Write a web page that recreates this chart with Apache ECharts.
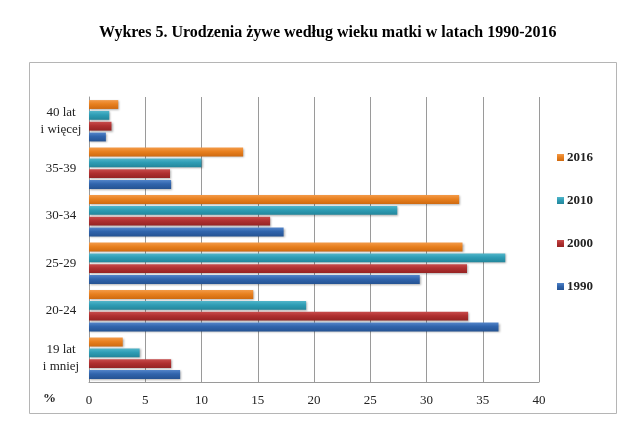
<!DOCTYPE html>
<html>
<head>
<meta charset="utf-8">
<script src="https://cdn.jsdelivr.net/npm/echarts@6/dist/echarts.min.js"></script>
<style>
html, body { margin: 0; padding: 0; background: #fff; }
#panel { width: 640px; height: 434px; }
</style>
</head>
<body>
<div id="panel"></div>
<script>
var ageGroups = ['19 lat\ni mniej', '20-24', '25-29', '30-34', '35-39', '40 lat\ni więcej'];
var years = ['2016', '2010', '2000', '1990'];
var values2016 = [3.0, 14.6, 33.2, 32.9, 13.7, 2.6];
var values2010 = [4.5, 19.3, 37.0, 27.4, 10.0, 1.8];
var values2000 = [7.3, 33.7, 33.6, 16.1, 7.2, 2.0];
var values1990 = [8.1, 36.4, 29.4, 17.3, 7.3, 1.5];
var xTicks = [0, 5, 10, 15, 20, 25, 30, 35, 40];

var serif = '"Liberation Serif", "Times New Roman", serif';

// kolory: [góra, środek, dół] żeby słupki miały lekki cień jak w Excelu
var colors = {
    '2016': ['#f39a48', '#e8801f', '#cf6a10'],
    '2010': ['#52b6ca', '#2f9db5', '#23869b'],
    '2000': ['#c84c4c', '#b03030', '#952323'],
    '1990': ['#5284c9', '#3064ac', '#255393']
};

function grad(c)
{
    return new echarts.graphic.LinearGradient(0, 0, 0, 1, [
        { offset: 0, color: c[0] },
        { offset: 0.45, color: c[1] },
        { offset: 1, color: c[2] }
    ]);
}

function makeSeries(name, data)
{
    return {
        name: name,
        type: 'bar',
        data: data,
        barGap: '22%',
        barCategoryGap: '13%',
        itemStyle: {
            color: grad(colors[name]),
            shadowColor: 'rgba(0,0,0,0.3)',
            shadowBlur: 2,
            shadowOffsetX: 1,
            shadowOffsetY: 1
        },
        emphasis: { disabled: true }
    };
}

var myChart = echarts.init(document.getElementById('panel'));
myChart.setOption({
    backgroundColor: '#fff',
    animation: false,
    title: {
        text: 'Wykres 5. Urodzenia żywe według wieku matki w latach 1990-2016',
        left: 94,
        top: 20,
        textStyle: {
            fontFamily: serif,
            fontWeight: 'bold',
            fontSize: 16,
            color: '#000'
        }
    },
    legend: {
        orient: 'vertical',
        left: 552,
        top: 146,
        itemWidth: 7,
        itemHeight: 7,
        itemGap: 30,
        icon: 'rect',
        data: years,
        textStyle: {
            fontFamily: serif,
            fontWeight: 'bold',
            fontSize: 13,
            color: '#222',
            padding: [0, 0, 0, -2]
        }
    },
    grid: {
        left: 89,
        right: 101,
        top: 97,
        bottom: 52,
        containLabel: false
    },
    xAxis: {
        type: 'value',
        min: 0,
        max: 40,
        interval: 5,
        axisLine: { show: true, lineStyle: { color: '#9a9a9a' } },
        axisTick: { show: false },
        splitLine: { show: true, lineStyle: { color: '#9a9a9a', width: 1 } },
        axisLabel: {
            margin: 12,
            fontFamily: serif,
            fontSize: 13,
            color: '#222',
            formatter: function (v) { return xTicks.indexOf(v) >= 0 ? String(v) : ''; }
        }
    },
    yAxis: {
        type: 'category',
        data: ageGroups,
        axisLine: { show: true, lineStyle: { color: '#9a9a9a' } },
        axisTick: { show: false },
        axisLabel: {
            margin: 28,
            align: 'center',
            fontFamily: serif,
            fontSize: 13,
            lineHeight: 17,
            color: '#222'
        }
    },
    graphic: [
        {
            type: 'rect',
            shape: { x: 29.5, y: 62.5, width: 587, height: 351 },
            style: { fill: 'none', stroke: '#b5b5b5', lineWidth: 1 },
            z: -1
        },
        {
            type: 'text',
            left: 43,
            top: 392,
            style: {
                text: '%',
                font: 'bold 13px ' + serif,
                fill: '#222'
            }
        }
    ],
    series: [
        makeSeries('2016', values2016),
        makeSeries('2010', values2010),
        makeSeries('2000', values2000),
        makeSeries('1990', values1990)
    ]
});
</script>
</body>
</html>
